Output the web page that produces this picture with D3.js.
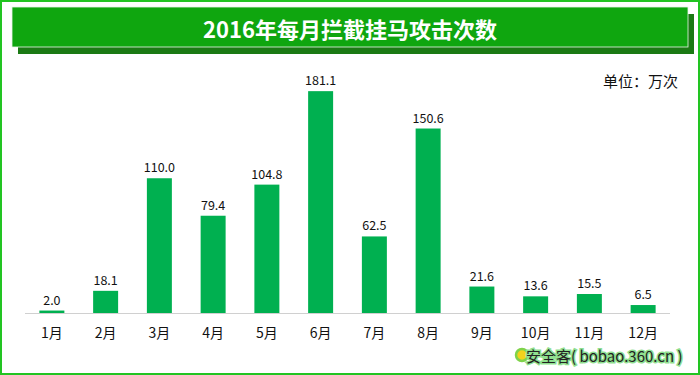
<!DOCTYPE html>
<html>
<head>
<meta charset="utf-8">
<script src="https://cdn.jsdelivr.net/npm/d3@7"></script>
<style>
  body { margin: 0; background: #fff; }
  svg { display: block; font-family: "Noto Sans CJK SC", "Noto Sans", sans-serif; }
</style>
</head>
<body>
<script>
// chart data
let months = ["1月","2月","3月","4月","5月","6月","7月","8月","9月","10月","11月","12月"];
let attacks = [2.0, 18.1, 110.0, 79.4, 104.8, 181.1, 62.5, 150.6, 21.6, 13.6, 15.5, 6.5];
let title = "2016年每月拦截挂马攻击次数";
let unit = "单位：万次";

init();

function init() {
  let width = 700, height = 375;

  let svg = d3.select("body")
              .append("svg")
              .attr("width", width)
              .attr("height", height);

  // outer frame
  svg.append("rect")
     .attr("x", 1).attr("y", 1)
     .attr("width", width - 2).attr("height", height - 2)
     .attr("fill", "#fff")
     .attr("stroke", "#22c422")
     .attr("stroke-width", 2);

  // title banner + shadow
  svg.append("rect")
     .attr("x", 18).attr("y", 14)
     .attr("width", 676).attr("height", 40)
     .attr("fill", "#1b7a14");
  svg.append("rect")
     .attr("x", 12).attr("y", 7)
     .attr("width", 676).attr("height", 40)
     .attr("fill", "#0fa60f")
     .attr("stroke", "#e8f5e8")
     .attr("stroke-width", 0.8);

  svg.append("text")
     .attr("x", 350).attr("y", 28)
     .attr("text-anchor", "middle")
     .attr("dominant-baseline", "central")
     .attr("fill", "#fff")
     .attr("font-size", 22)
     .attr("font-weight", "bold")
     .text(title);

  svg.append("text")
     .attr("x", 678).attr("y", 80)
     .attr("text-anchor", "end")
     .attr("dominant-baseline", "central")
     .attr("fill", "#111")
     .attr("font-size", 15)
     .text(unit);

  let x = d3.scaleBand().domain(months).range([25, 670]).paddingInner(0.535).paddingOuter(0.2675);
  let y = d3.scaleLinear().domain([0, 200]).range([313, 68]);

  let g = svg.append("g");

  g.selectAll(".bar")
   .data(attacks)
   .enter()
   .append("rect")
   .attr("class", "bar")
   .attr("x", (d, i) => x(months[i]))
   .attr("y", d => y(d))
   .attr("width", x.bandwidth())
   .attr("height", d => y(0) - y(d))
   .attr("fill", "#00b050");

  g.selectAll(".val")
   .data(attacks)
   .enter()
   .append("text")
   .attr("class", "val")
   .attr("x", (d, i) => x(months[i]) + x.bandwidth() / 2)
   .attr("y", d => y(d) - 6)
   .attr("text-anchor", "middle")
   .attr("fill", "#111")
   .attr("font-size", 12.5)
   .text(d => d.toFixed(1));

  // baseline
  g.append("line")
   .attr("x1", 25).attr("x2", 670)
   .attr("y1", y(0) + 0.5).attr("y2", y(0) + 0.5)
   .attr("stroke", "#d0d0d0")
   .attr("stroke-width", 1);

  let xAxis = d3.axisBottom(x).tickSize(0).tickPadding(15);
  let ax = g.append("g")
            .attr("transform", "translate(0," + y(0) + ")")
            .call(xAxis);
  ax.select(".domain").remove();
  ax.selectAll("text")
    .attr("font-size", 14)
    .attr("font-family", "\"Noto Sans CJK SC\", sans-serif")
    .attr("fill", "#111");

  // watermark
  let wm = svg.append("g").attr("transform", "translate(516,355)");
  wm.append("circle")
    .attr("cx", 6).attr("cy", 0).attr("r", 6)
    .attr("fill", "#f2d21b")
    .attr("stroke", "#7fd34a")
    .attr("stroke-width", 2.5);
  wm.append("text")
    .attr("x", 10).attr("y", 0)
    .attr("dominant-baseline", "central")
    .attr("font-size", 15)
    .attr("fill", "#222")
    .attr("stroke", "#8fe08f")
    .attr("stroke-width", 3)
    .attr("paint-order", "stroke")
    .text("安全客( bobao.360.cn )");
}
</script>
</body>
</html>
